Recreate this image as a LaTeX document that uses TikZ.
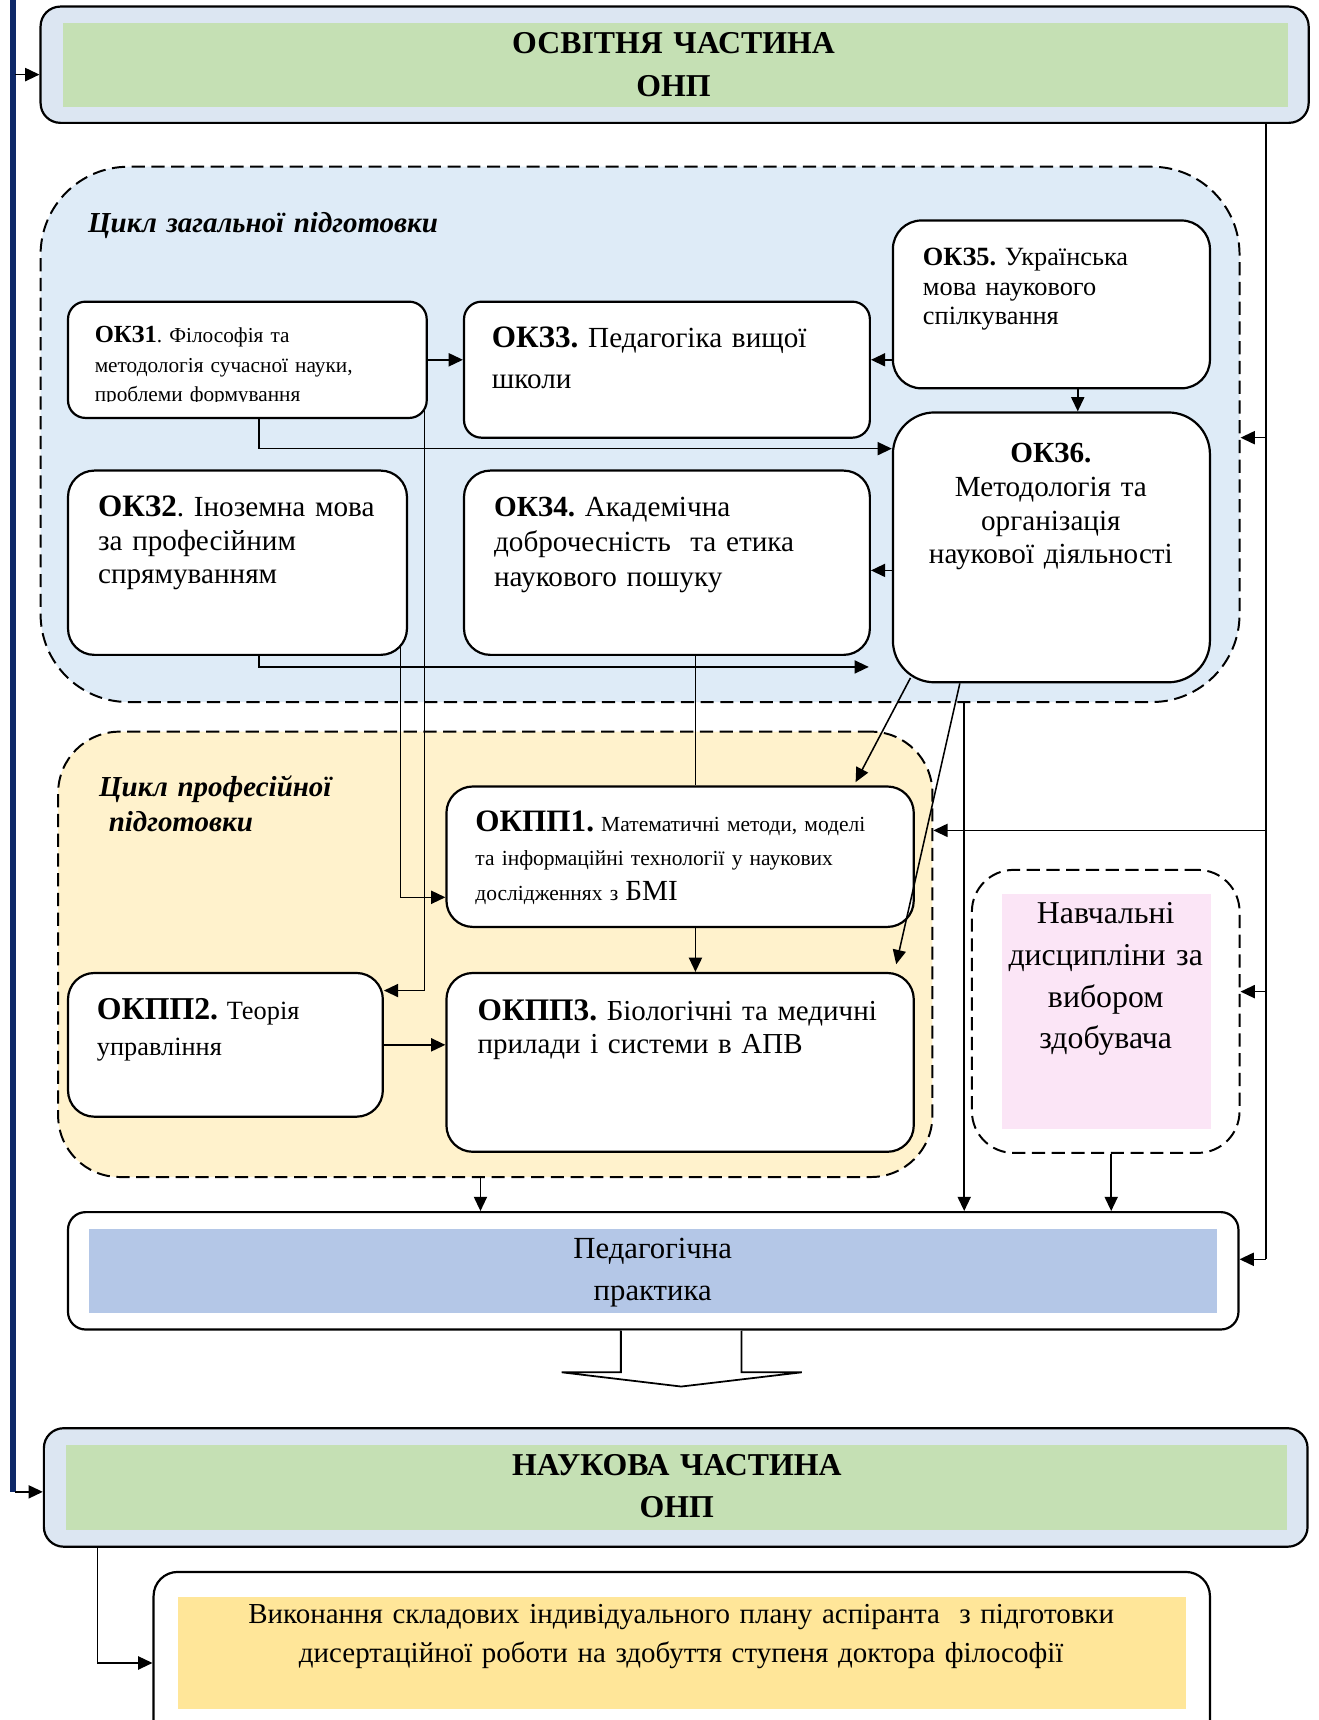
\documentclass[tikz,border=0pt]{standalone}
\usepackage{fontspec}
\setmainfont{Liberation Serif}
\usepackage{xcolor}
\usepackage{tikz}
\usetikzlibrary{fit}
\usetikzlibrary{calc}
\usetikzlibrary{positioning}
\usetikzlibrary{arrows.meta}
\frenchspacing
\definecolor{navybar}{RGB}{14,40,104}
\definecolor{partgray}{RGB}{220,230,242}
\definecolor{partgreen}{RGB}{197,224,180}
\definecolor{genblue}{RGB}{222,235,247}
\definecolor{profyellow}{RGB}{255,242,204}
\definecolor{choicepink}{RGB}{251,229,246}
\definecolor{pracblue}{RGB}{180,199,231}
\definecolor{thesisyellow}{RGB}{255,230,153}
\tikzset{%
  partbox/.style={rectangle,rounded corners=9pt,fill=partgray,draw,line width=1pt,inner sep=0pt}
}
\tikzset{%
  cyclebox/.style={rectangle,rounded corners=#1,draw,dash pattern=on 6pt off 3pt,line width=.9pt,inner sep=0pt}
}
\tikzset{%
  okbox/.style={rectangle,rounded corners=#1,fill=white,draw,line width=1pt,inner sep=0pt},
  okbox/.default=12pt
}
\tikzset{%
  innerbox/.style={rectangle,fill=#1,inner sep=0pt}
}
\tikzset{%
  oktext/.style={inner sep=0pt,anchor=base west,align=left,text width=200pt},
  midtext/.style={inner sep=0pt,anchor=base,align=center,text width=#1}
}
\tikzset{%
  link/.style={line width=.7pt,-{Triangle[length=6.5pt,width=6pt]}},
  plain/.style={line width=.7pt}
}
\newcommand\fsz[2]{\fontsize{#1}{#2}\selectfont}

\begin{document}
\begin{tikzpicture}[x=0.5pt,y=-0.5pt]
  \useasboundingbox (0,0) rectangle (1202,1568);

  % cycles
  \node[cyclebox=40pt,fill=genblue,fit={(37,152)(1130,640)}](gen){};
  \node[cyclebox=28pt,fill=profyellow,fit={(53,667)(850,1073)}](prof){};
  \node[cyclebox=19pt,fit={(886,793)(1130,1051)}](choice){};
  \node[innerbox=choicepink,fit={(913,815)(1104,1029)}](choicein){};
  \node[font=\fsz{13.2}{16}\bfseries\itshape,oktext](genlabel) at (80,212){Цикл загальної підготовки};
  \node[font=\fsz{13.2}{16}\bfseries\itshape,oktext](proflabel) at (90,726){Цикл професійної\\~підготовки};
  \node[font=\fsz{14.5}{19},midtext=110pt](choicetext) at (1008,842){Навчальні\\дисципліни за\\вибором\\здобувача};

  % parts
  \node[partbox,fit={(37,6)(1193,112)}](osv){};
  \node[innerbox=partgreen,fit={(57,21)(1174,98)}](osvin){};
  \node[font=\fsz{14.5}{19.7}\bfseries,midtext=300pt](osvt) at (614,48.6){ОСВІТНЯ ЧАСТИНА\\ОНП};
  \node[partbox,fit={(40,1302)(1192,1410)}](nauk){};
  \node[innerbox=partgreen,fit={(60,1317)(1173,1395)}](naukin){};
  \node[font=\fsz{14.5}{19}\bfseries,midtext=300pt](naukt) at (617,1345){НАУКОВА ЧАСТИНА\\ОНП};

  % general cycle
  \node[okbox=8pt,fit={(62,275)(389,381)}](ok1){};
  \begin{scope}
    \clip (62,275) rectangle (389,366);
    \node[font=\fsz{9.7}{13.6},oktext](ok1t) at (86,312){{\fsz{11.2}{13.6}\bfseries ОКЗ1}. Філософія та\\методологія сучасної науки,\\проблеми формування};
  \end{scope}
  \node[okbox=8pt,fit={(423,275)(793,399)}](ok3){};
  \node[font=\fsz{13.3}{18.5},oktext](ok3t) at (448,317){{\fsz{14.2}{18.5}\bfseries ОКЗ3.} Педагогіка вищої\\школи};
  \node[okbox=13pt,fit={(814,201)(1103,354)}](ok5){};
  \node[font=\fsz{12}{13.5},oktext](ok5t) at (841,242){\textbf{ОКЗ5.} Українська\\мова наукового\\спілкування};
  \node[okbox=19pt,fit={(814,376)(1103,622)}](ok6){};
  \node[font=\fsz{13.3}{15.3},midtext=140pt](ok6t) at (958,422){\textbf{ОКЗ6.}\\Методологія та\\організація\\наукової діяльності};
  \node[okbox,fit={(62,429)(371,597)}](ok2){};
  \node[font=\fsz{13.3}{15.3},oktext](ok2t) at (89,471){{\fsz{14.2}{15.3}\bfseries ОКЗ2}. Іноземна мова\\за професійним\\спрямуванням};
  \node[okbox,fit={(423,429)(793,597)}](ok4){};
  \node[font=\fsz{13.3}{16},oktext](ok4t) at (450,471){\textbf{ОКЗ4.} Академічна\\доброчесність~ та етика\\наукового пошуку};

  % professional cycle
  \node[okbox,fit={(407,717)(833,845)}](pp1){};
  \node[font=\fsz{9.8}{15.7},oktext](pp1t) at (433,758){{\fsz{14.2}{15.7}\bfseries ОКПП1.} Математичні методи, моделі\\та інформаційні технології у наукових\\дослідженнях з {\fsz{13.3}{15.7}БМІ}};
  \node[okbox,fit={(62,887)(349,1018)}](pp2){};
  \node[font=\fsz{12}{16.7},oktext](pp2t) at (88,929){{\fsz{14.5}{16.7}\bfseries ОКПП2.} Теорія\\управління};
  \node[okbox,fit={(407,887)(833,1050)}](pp3){};
  \node[font=\fsz{13.2}{15.3},oktext](pp3t) at (435,930){{\fsz{14.3}{15.3}\bfseries ОКПП3.} Біологічні та медичні\\прилади і системи в АПВ};

  % practice and thesis
  \node[okbox=8pt,fit={(62,1105)(1129,1212)}](prac){};
  \node[innerbox=pracblue,fit={(81,1120)(1109,1197)}](pracin){};
  \node[font=\fsz{14}{19.5},midtext=200pt](pract) at (595,1147){Педагогічна\\практика};
  \node[okbox=11pt,fit={(140,1433)(1103,1600)}](thesis){};
  \node[innerbox=thesisyellow,fit={(162,1456)(1081,1558)}](thesisin){};
  \node[font=\fsz{13.2}{17.75},midtext=440pt](thesist) at (621,1480){Виконання складових індивідуального плану аспіранта~ з підготовки\\дисертаційної роботи на здобуття ступеня доктора філософії};

  % left bar
  \draw[navybar,line width=2.7pt] (12,0) -- (12,1360);
  \coordinate (bartop) at (14,68);
  \coordinate (barbot) at (14,1360);
  \draw[link] (bartop) -- (bartop -| osv.west);
  \draw[link] (barbot) -- (barbot -| nauk.west);

  % right trunk
  \coordinate (trunk) at (1154,1148);
  \coordinate (tgen) at (1154,399);
  \coordinate (tprof) at (1154,757);
  \coordinate (tchoice) at (1154,904);
  \draw[plain] (osv.south -| trunk) -- (trunk);
  \draw[link] (tgen) -- (tgen -| gen.east);
  \draw[link] (tprof) -- (tprof -| prof.east);
  \draw[link] (tchoice) -- (tchoice -| choice.east);
  \draw[link] (trunk) -- (trunk -| prac.east);

  % links in general cycle
  \draw[link] (ok1.east) -- (ok1.east -| ok3.west);
  \draw[link] (ok5.west |- ok1.east) -- (ok3.east |- ok1.east);
  \draw[link] ([xshift=12pt]ok5.south) -- ([xshift=12pt]ok6.north);
  \coordinate (turn1) at (236,409);
  \draw[link] (ok1.south -| turn1) -- (turn1) -- (turn1 -| ok6.west);
  \coordinate (ok4in) at ([yshift=-3.5pt]ok4.east);
  \draw[link] (ok6.west |- ok4in) -- (ok4in);
  \coordinate (turn4) at (236,608);
  \coordinate (end4) at (792,608);
  \draw[link] (ok2.south -| turn4) -- (turn4) -- (end4);

  % links down to professional cycle
  \coordinate (turn2) at (387,903);
  \draw[link,shorten <=-4pt] (ok1.south -| turn2) -- (turn2) -- (turn2 -| pp2.east);
  \coordinate (turn3) at (365,818);
  \draw[link,shorten <=-4pt] (ok2.south -| turn3) -- (turn3) -- (turn3 -| pp1.west);
  \coordinate (col4) at (634,0);
  \draw[plain] (ok4.south -| col4) -- (pp1.north -| col4);
  \draw[link] (pp1.south -| col4) -- (pp3.north -| col4);
  \draw[link] ([xshift=8.5pt,yshift=2.5pt]ok6.south west) -- ([xshift=-27pt,yshift=1.5pt]pp1.north east);
  \draw[link] ([xshift=31pt]ok6.south west) -- ([xshift=-8.5pt,yshift=3.5pt]pp3.north east);
  \draw[link] (pp2.east) -- (pp2.east -| pp3.west);

  % links to practice
  \coordinate (col6) at (879,0);
  \coordinate (col7) at (438,0);
  \coordinate (col8) at (1013,0);
  \draw[link] (gen.south -| col6) -- (prac.north -| col6);
  \draw[link] (prof.south -| col7) -- (prac.north -| col7);
  \draw[link] (choice.south -| col8) -- (prac.north -| col8);

  % big arrow and thesis link
  \draw[line width=.8pt,fill=white] (prac.south) ++(-29.5,0) -- ++(0,38) -- ++(-54,0) -- ++(109,13) -- ++(110,-13) -- ++(-55,0) -- ++(0,-38);
  \coordinate (turn9) at (89,1516);
  \draw[link] (nauk.south -| turn9) -- (turn9) -- (turn9 -| thesis.west);
\end{tikzpicture}
\end{document}
